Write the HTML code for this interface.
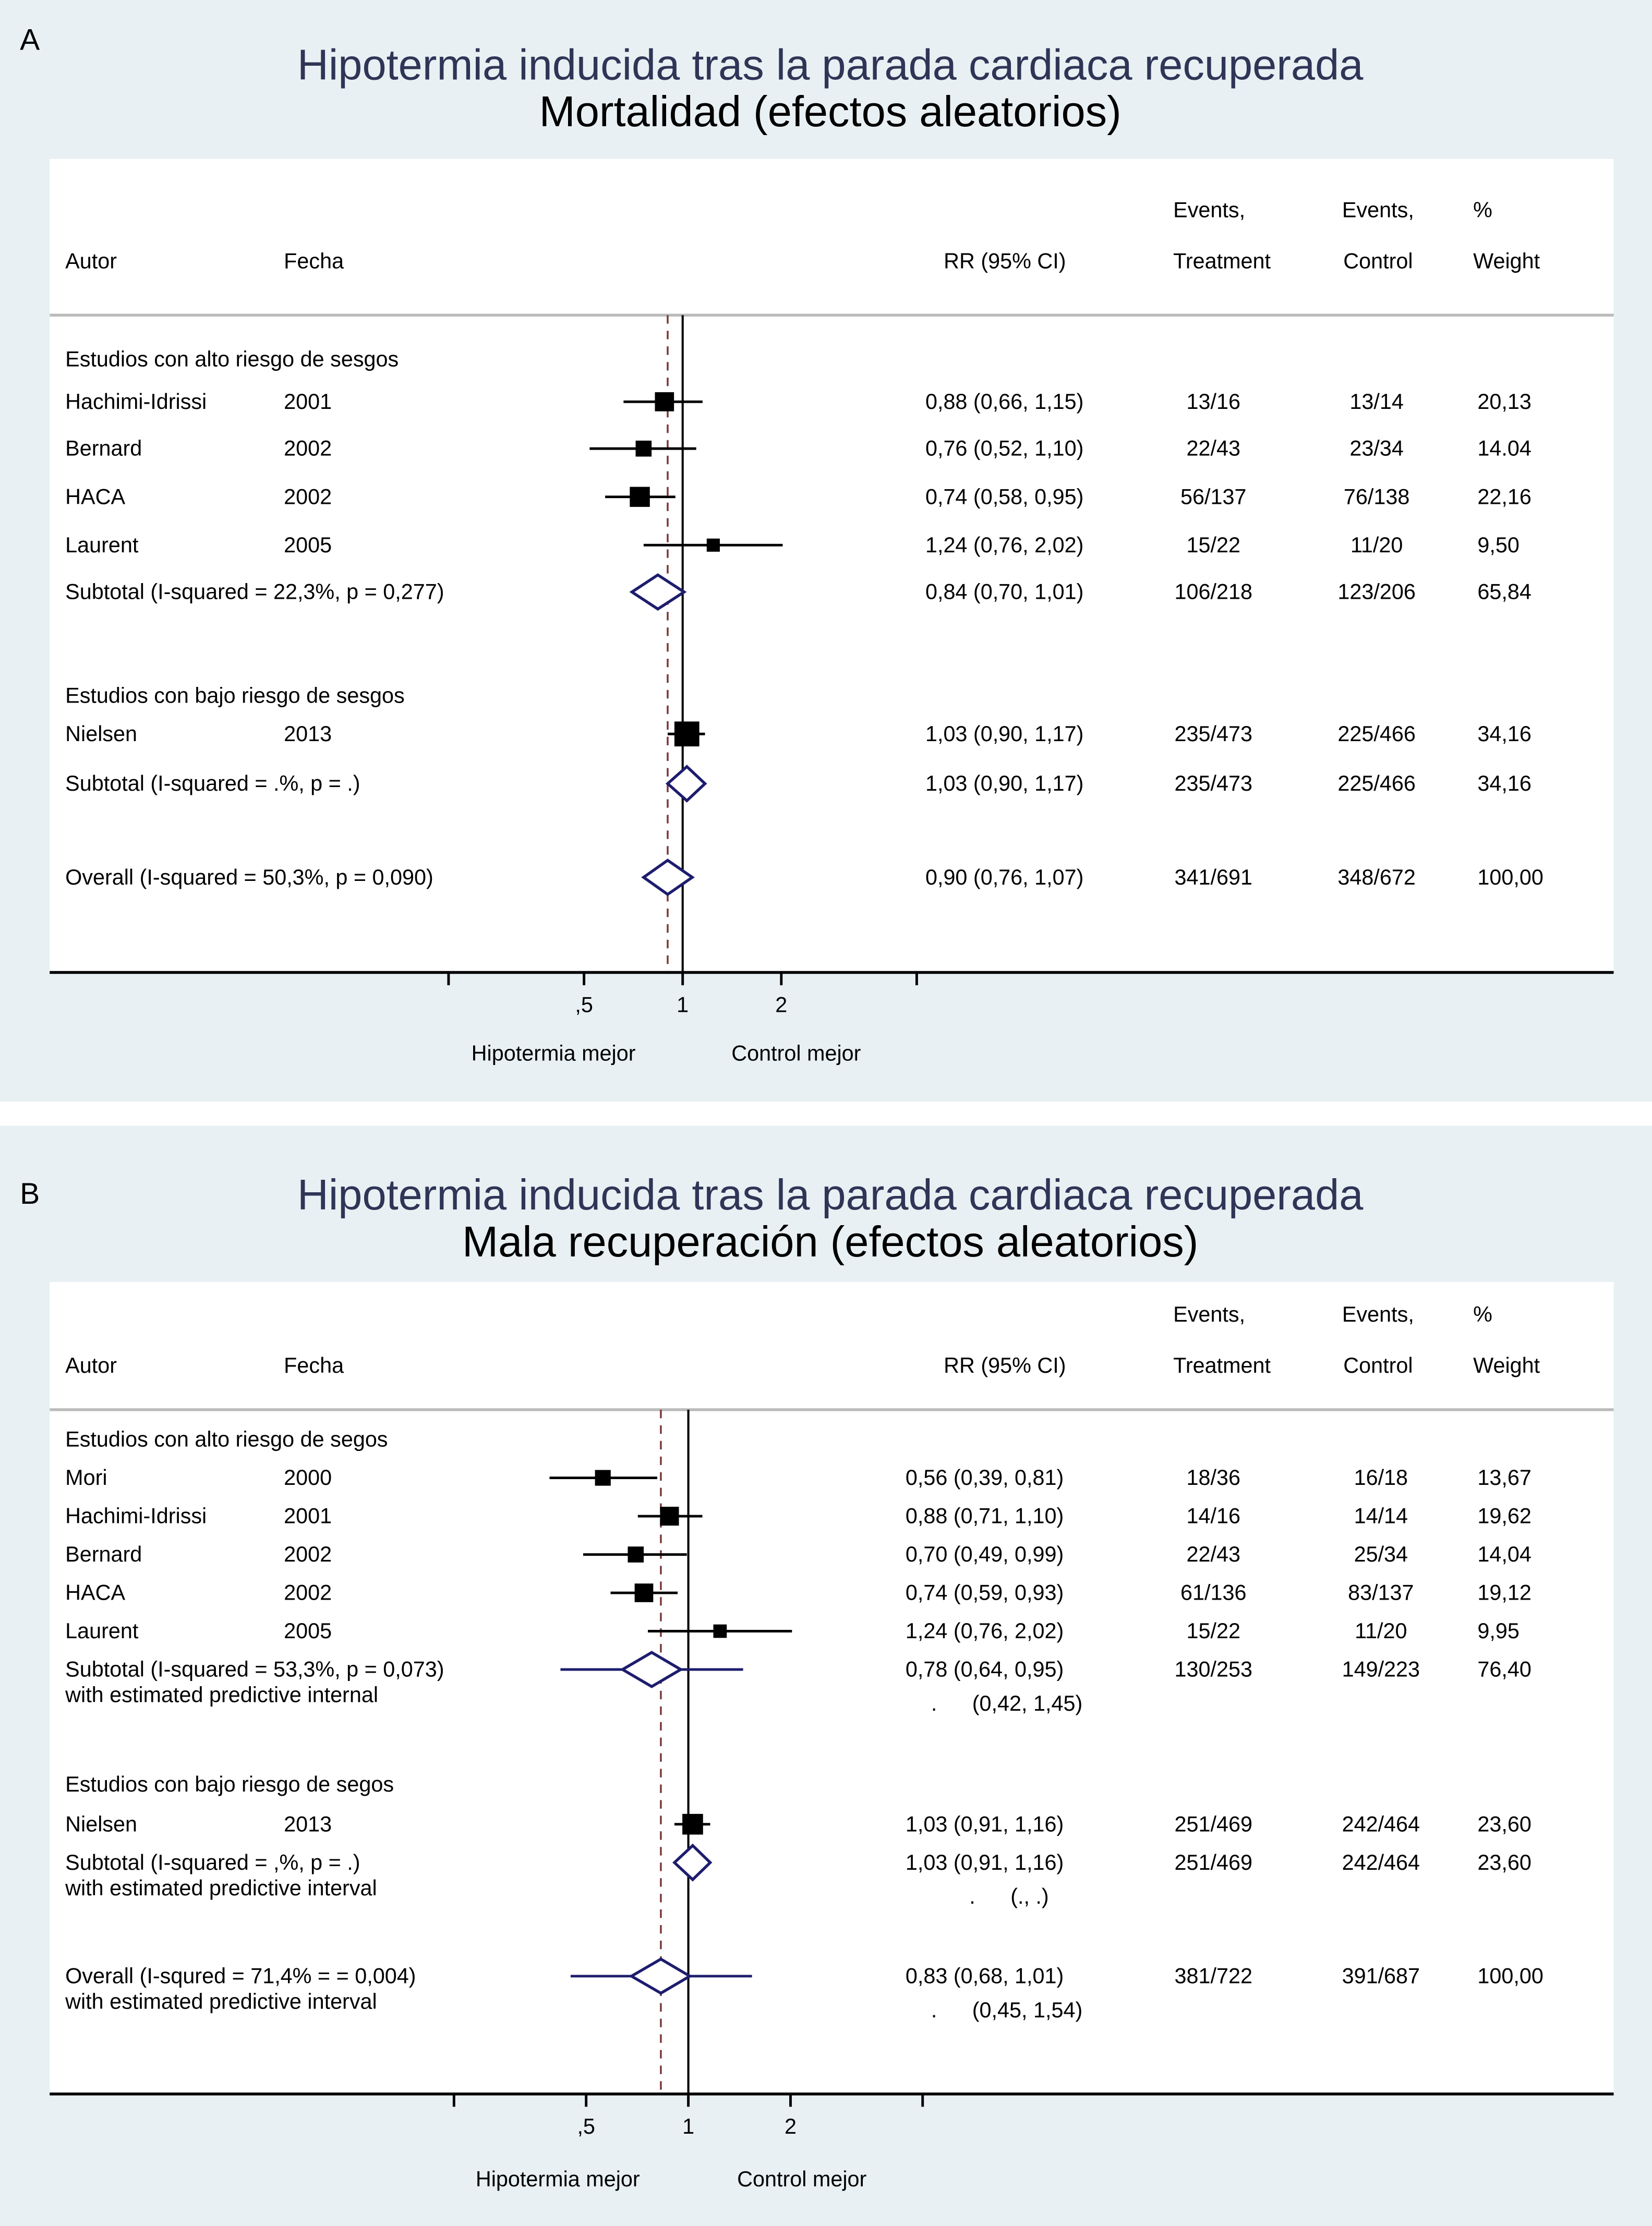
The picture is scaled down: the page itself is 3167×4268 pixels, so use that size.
<!DOCTYPE html>
<html><head><meta charset="utf-8"><style>
html,body{margin:0;padding:0;background:#fff}
svg{display:block}
text{font-family:"Liberation Sans",Arial,sans-serif}
</style></head><body>
<svg id="fig" width="3167" height="4268" viewBox="0 0 1164 1568" preserveAspectRatio="none" xmlns="http://www.w3.org/2000/svg">
<rect x="0" y="0" width="1164" height="1568" fill="#ffffff"/>
<rect x="0" y="0" width="1164" height="776" fill="#e8f0f3"/>
<rect x="0" y="793" width="1164" height="775" fill="#e8f0f3"/>
<rect x="35" y="112" width="1102" height="573" fill="#ffffff"/>
<rect x="35" y="903" width="1102" height="572" fill="#ffffff"/>
<g id="gA"></g>
<g id="gB"></g>
</svg>
<script>
// ---- Panel A data ----
const aLabels = ["Hachimi-Idrissi","Bernard","HACA","Laurent","Subtotal (I-squared = 22,3%, p = 0,277)","Nielsen","Subtotal (I-squared = .%, p = .)","Overall (I-squared = 50,3%, p = 0,090)"];
const aYears = ["2001","2002","2002","2005","","2013","",""];
const aRR = [0.88,0.76,0.74,1.24,0.84,1.03,1.03,0.90];
const aLo = [0.66,0.52,0.58,0.76,0.70,0.90,0.90,0.76];
const aHi = [1.15,1.10,0.95,2.02,1.01,1.17,1.17,1.07];
const aWeight = [20.13,14.04,22.16,9.50,65.84,34.16,34.16,100.00];
const aWeightTxt = ["20,13","14.04","22,16","9,50","65,84","34,16","34,16","100,00"];
const aTreat = ["13/16","22/43","56/137","15/22","106/218","235/473","235/473","341/691"];
const aCtrl = ["13/14","23/34","76/138","11/20","123/206","225/466","225/466","348/672"];
const aKind = ["s","s","s","s","d","s","d","d"];
// ---- Panel B data ----
const bLabels = ["Mori","Hachimi-Idrissi","Bernard","HACA","Laurent","Subtotal (I-squared = 53,3%, p = 0,073)","Nielsen","Subtotal (I-squared = ,%, p = .)","Overall (I-squred = 71,4% = = 0,004)"];
const bYears = ["2000","2001","2002","2002","2005","","2013","",""];
const bRR = [0.56,0.88,0.70,0.74,1.24,0.78,1.03,1.03,0.83];
const bLo = [0.39,0.71,0.49,0.59,0.76,0.64,0.91,0.91,0.68];
const bHi = [0.81,1.10,0.99,0.93,2.02,0.95,1.16,1.16,1.01];
const bPredLo = [null,null,null,null,null,0.42,null,null,0.45];
const bPredHi = [null,null,null,null,null,1.45,null,null,1.54];
const bPredTxt = ["","","","","","(0,42, 1,45)","","(., .)","(0,45, 1,54)"];
const bWeight = [13.67,19.62,14.04,19.12,9.95,76.40,23.60,23.60,100.00];
const bWeightTxt = ["13,67","19,62","14,04","19,12","9,95","76,40","23,60","23,60","100,00"];
const bTreat = ["18/36","14/16","22/43","61/136","15/22","130/253","251/469","251/469","381/722"];
const bCtrl = ["16/18","14/14","25/34","83/137","11/20","149/223","242/464","242/464","391/687"];
const bKind = ["s","s","s","s","s","d","s","d","d"];
const tickVals = [0.5,1,2];
const tickLbls = [",5","1","2"];

const NS="http://www.w3.org/2000/svg";
function mk(parent,tag,attrs,txt){const e=document.createElementNS(NS,tag);for(const k in attrs)e.setAttribute(k,attrs[k]);if(txt!==undefined)e.textContent=txt;parent.appendChild(e);return e;}
function fmt(v){return v.toFixed(2).replace('.',',');}

function panel(g,cfg){
  const xs=v=>cfg.x1+Math.log2(v)*cfg.k;
  let t;
  t=mk(g,'text',{x:14,y:cfg.letterY,'font-size':21,fill:'#000'},cfg.letter);
  
  
  t=mk(g,'text',{x:585,y:cfg.top+56,'font-size':30.5,fill:'#2e3556','text-anchor':'middle'},"Hipotermia inducida tras la parada cardiaca recuperada");
  
  
  t=mk(g,'text',{x:585,y:cfg.top+89,'font-size':30.5,fill:'#000','text-anchor':'middle'},cfg.subtitle);
  
  
  const fs=15.2;
  const hy1=cfg.hy1,hy2=cfg.hy2;
  [["Autor",46,hy2,'start'],["Fecha",200,hy2,'start'],["RR (95% CI)",708,hy2,'middle'],["Events,",852,hy1,'middle'],["Treatment",861,hy2,'middle'],["Events,",971,hy1,'middle'],["Control",971,hy2,'middle'],["%",1038,hy1,'start'],["Weight",1038,hy2,'start']].forEach(h=>{
    const e=mk(g,'text',{x:h[1],y:h[2]+5,'font-size':fs,'text-anchor':h[3]},h[0]);
    
    
  });
  let l=mk(g,'line',{x1:35,x2:1137,y1:cfg.hline,y2:cfg.hline,stroke:'#bbb','stroke-width':2});
  
  
  l=mk(g,'line',{x1:xs(1),x2:xs(1),y1:cfg.hline,y2:cfg.axisY,stroke:'#000','stroke-width':1.5});
  
  
  l=mk(g,'line',{x1:xs(cfg.overall),x2:xs(cfg.overall),y1:cfg.hline,y2:cfg.axisY,stroke:'#7a3b3b','stroke-width':1.3,'stroke-dasharray':'6,5'});
  
  
  cfg.groups.forEach(gr=>{
    const e=mk(g,'text',{x:46,y:gr[1]+5,'font-size':fs},gr[0]);
    
    
  });
  const d=cfg.d;
  d.labels.forEach((lab,i)=>{
    const y=cfg.rowY[i];
    let e=mk(g,'text',{x:46,y:y+5,'font-size':fs},lab);
    
    
    if(cfg.sub2[i]){e=mk(g,'text',{x:46,y:y+23,'font-size':fs},cfg.sub2[i]);
      
      }
    if(d.years[i]){e=mk(g,'text',{x:200,y:y+5,'font-size':fs},d.years[i]);
      
      }
    e=mk(g,'text',{x:cfg.rrX,y:y+5,'font-size':fs},fmt(d.rr[i])+" ("+fmt(d.lo[i])+", "+fmt(d.hi[i])+")");
    
    
    e=mk(g,'text',{x:cfg.trX,y:y+5,'font-size':fs,'text-anchor':'middle'},d.treat[i]);
    
    
    e=mk(g,'text',{x:cfg.ctX,y:y+5,'font-size':fs,'text-anchor':'middle'},d.ctrl[i]);
    
    
    e=mk(g,'text',{x:1041,y:y+5,'font-size':fs},d.wt[i]);
    
    
    if(d.predTxt && d.predTxt[i]){
      const short=d.predTxt[i].length<8;
      const dx=short?683:656, px=short?712:685;
      e=mk(g,'text',{x:dx,y:y+29,'font-size':fs},".");
      
      
      e=mk(g,'text',{x:px,y:y+29,'font-size':fs},d.predTxt[i]);
      
      
    }
    if(d.kind[i]==='s'){
      e=mk(g,'line',{x1:xs(d.lo[i]),x2:xs(d.hi[i]),y1:y,y2:y,stroke:'#000','stroke-width':1.8});
      
      
      const s=Math.sqrt(d.w[i])*3.0;
      e=mk(g,'rect',{x:xs(d.rr[i])-s/2,y:y-s/2,width:s,height:s,fill:'#000'});
      
      
    } else {
      if(d.plo && d.plo[i]!=null){
        e=mk(g,'line',{x1:xs(d.plo[i]),x2:xs(d.phi[i]),y1:y,y2:y,stroke:'#1d1d6e','stroke-width':1.8});
        
        
      }
      const h=12;
      e=mk(g,'polygon',{points:`${xs(d.lo[i])},${y} ${xs(d.rr[i])},${y-h} ${xs(d.hi[i])},${y} ${xs(d.rr[i])},${y+h}`,fill:'#fff',stroke:'#1d1d6e','stroke-width':2});
      
      
    }
  });
  l=mk(g,'line',{x1:35,x2:1137,y1:cfg.axisY,y2:cfg.axisY,stroke:'#000','stroke-width':2});
  
  
  const all=[cfg.tickMin].concat(tickVals).concat([cfg.tickMax]);
  all.forEach(v=>{
    const e=mk(g,'line',{x1:xs(v),x2:xs(v),y1:cfg.axisY,y2:cfg.axisY+9,stroke:'#000','stroke-width':1.8});
    
    
  });
  tickVals.forEach((v,i)=>{
    const e=mk(g,'text',{x:xs(v),y:cfg.axisY+28,'font-size':fs,'text-anchor':'middle'},tickLbls[i]);
    
    
  });
  let e=mk(g,'text',{x:cfg.favL,y:cfg.favY,'font-size':fs,'text-anchor':'middle'},"Hipotermia mejor");
  
  
  e=mk(g,'text',{x:cfg.favR,y:cfg.favY,'font-size':fs,'text-anchor':'middle'},"Control mejor");
  
  
}

panel(document.getElementById('gA'),{
  letter:"A",letterY:35,top:0,subtitle:"Mortalidad (efectos aleatorios)",x1:481,k:69.5,hy1:148,hy2:184,hline:222,axisY:685,
  overall:aRR[7],tickMin:0.193,tickMax:5.18,favL:390,favR:561,favY:747,rrX:652,trX:855,ctX:970,
  groups:[["Estudios con alto riesgo de sesgos",253],["Estudios con bajo riesgo de sesgos",490]],
  rowY:[283,316,350,384,417,517,552,618],sub2:[],
  d:{labels:aLabels,years:aYears,rr:aRR,lo:aLo,hi:aHi,w:aWeight,wt:aWeightTxt,treat:aTreat,ctrl:aCtrl,kind:aKind}
});
panel(document.getElementById('gB'),{
  letter:"B",letterY:848,top:796,subtitle:"Mala recuperación (efectos aleatorios)",x1:485,k:72,hy1:926,hy2:962,hline:993,axisY:1475,
  overall:bRR[8],tickMin:0.204,tickMax:4.9,favL:393,favR:565,favY:1540,rrX:638,trX:855,ctX:973,
  groups:[["Estudios con alto riesgo de segos",1014],["Estudios con bajo riesgo de segos",1257]],
  rowY:[1041,1068,1095,1122,1149,1176,1285,1312,1392],
  sub2:["","","","","","with estimated predictive internal","","with estimated predictive interval","with estimated predictive interval"],
  d:{labels:bLabels,years:bYears,rr:bRR,lo:bLo,hi:bHi,w:bWeight,wt:bWeightTxt,treat:bTreat,ctrl:bCtrl,kind:bKind,plo:bPredLo,phi:bPredHi,predTxt:bPredTxt}
});
</script>
</body></html>
